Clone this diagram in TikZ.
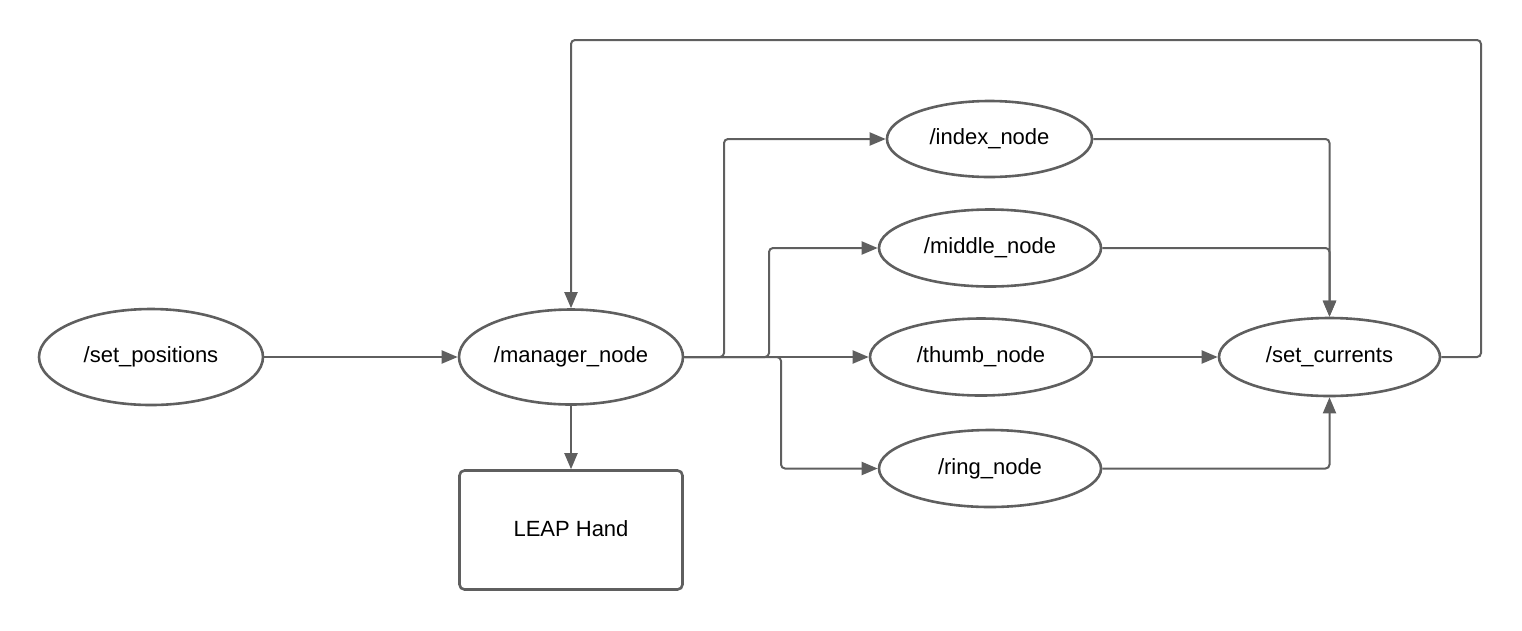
\documentclass[tikz,border=0pt]{standalone}
\usepackage{fontspec}
\setmainfont{Liberation Sans}
\usetikzlibrary{shapes.geometric,arrows.meta}
\definecolor{ln}{HTML}{5F5F5F}
\tikzset{
  ell/.style={ellipse,draw=ln,line width=2.6pt,inner sep=0pt,font=\fontsize{22}{26}\selectfont},
  box/.style={rectangle,draw=ln,line width=2.6pt,rounded corners=5pt,inner sep=0pt,font=\fontsize{22}{26}\selectfont},
  arr/.style={draw=ln,line width=2pt,rounded corners=4pt,-{Triangle[length=16pt,width=13pt]}}
}
\begin{document}
\begin{tikzpicture}[x=1pt,y=-1pt]
\useasboundingbox (0,0) rectangle (1522,630);
\node[ell,minimum width=224pt,minimum height=96pt] (setp) at (151,357) {/set\_positions};
\node[ell,minimum width=224pt,minimum height=95pt] (man) at (571,357) {/manager\_node};
\node[box,minimum width=223pt,minimum height=119pt] (leap) at (571,530) {\raisebox{3pt}{LEAP Hand}};
\node[ell,minimum width=205pt,minimum height=76pt] (idx) at (989.5,139) {/index\_node};
\node[ell,minimum width=222pt,minimum height=77pt] (mid) at (990,248) {/middle\_node};
\node[ell,minimum width=222pt,minimum height=77pt] (thumb) at (981,357) {/thumb\_node};
\node[ell,minimum width=222pt,minimum height=77pt] (ring) at (990,468.5) {/ring\_node};
\node[ell,minimum width=221pt,minimum height=78pt] (cur) at (1329.5,357) {/set\_currents};
\coordinate (bi) at (724,357);
\coordinate (bm) at (769,357);
\coordinate (br) at (781,357);
\coordinate (fb) at (1481,40);
\draw[arr] (setp) -- (man);
\draw[arr] (man) -- (leap);
\draw[arr] (man.east) -- (thumb.west);
\draw[arr] (man.east) -- (bi) |- (idx.west);
\draw[arr] (man.east) -- (bm) |- (mid.west);
\draw[arr] (man.east) -- (br) |- (ring.west);
\draw[arr] (idx.east) -| (cur.north);
\draw[arr] (mid.east) -| (cur.north);
\draw[arr] (thumb.east) -- (cur.west);
\draw[arr] (ring.east) -| (cur.south);
\draw[arr] (cur.east) -| (fb) -| (man.north);
\end{tikzpicture}
\end{document}
